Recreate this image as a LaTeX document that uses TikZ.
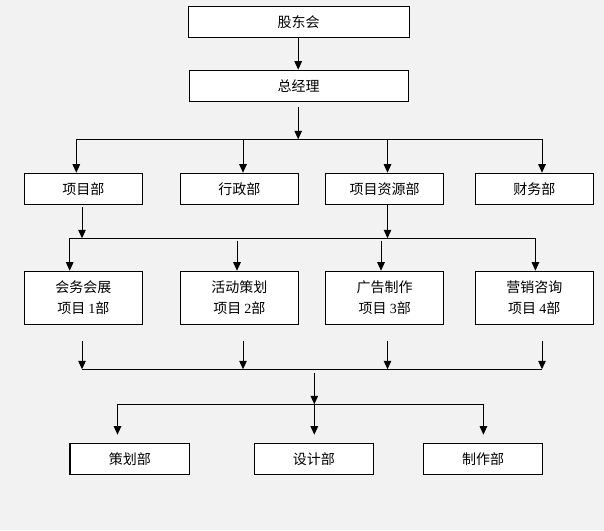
\documentclass[tikz,border=0pt]{standalone}
\usepackage{fontspec}
\setmainfont{Noto Sans CJK SC}
\newfontfamily\tnr{Liberation Serif}
\usetikzlibrary{arrows.meta}
\tikzset{
  box/.style={draw=black, fill=white, line width=1.2pt, minimum height=31pt, inner sep=0pt, font=\fontsize{14}{20.5}\selectfont},
  tallbox/.style={box, minimum height=53pt, align=center, minimum width=118pt},
  arr/.style={draw=black, line width=1pt, -{Triangle[length=8.5pt,width=7.5pt]}},
  bus/.style={draw=black, line width=1.2pt},
}
\begin{document}
\begin{tikzpicture}[x=1pt,y=-1pt]
\fill[fill={rgb,255:red,242;green,242;blue,242}] (0,0) rectangle (604,530);
\useasboundingbox (0,0) rectangle (604,530);
% top
\node[box, minimum width=221pt] (gdh) at (298.7,21.8) {股东会};
\node[box, minimum width=219pt] (zjl) at (298.7,85.8) {总经理};
% row 3
\node[box, minimum width=118pt] (xmb) at (83.4,188.8) {项目部};
\node[box, minimum width=118pt] (xzb) at (239.4,188.8) {行政部};
\node[box, minimum width=118pt] (zyb) at (384.7,188.8) {项目资源部};
\node[box, minimum width=118pt] (cwb) at (534.3,188.8) {财务部};
% row 4
\node[tallbox] (p1) at (83.4,297.8) {会务会展\\项目 {\tnr 1}部};
\node[tallbox] (p2) at (239.4,297.8) {活动策划\\项目 {\tnr 2}部};
\node[tallbox] (p3) at (384.7,297.8) {广告制作\\项目 {\tnr 3}部};
\node[tallbox] (p4) at (534.3,297.8) {营销咨询\\项目 {\tnr 4}部};
% row 5
\node[box, minimum width=119.5pt] (chb) at (129.8,458.8) {策划部};
\node[box, minimum width=119.5pt] (sjb) at (313.9,458.8) {设计部};
\node[box, minimum width=119.5pt] (zzb) at (483,458.8) {制作部};

% connectors level 1
\draw[arr] (298.2,0 |- gdh.south) -- (298.2,0 |- zjl.north);
\coordinate (z0) at (298.2,107);
\coordinate (z1) at (298.2,139.3);
\draw[arr] (z0) -- (z1);
\coordinate (bA) at (76.3,139.3);
\coordinate (bB) at (243,139.3);
\coordinate (bC) at (387.5,139.3);
\coordinate (bD) at (542,139.3);
\draw[bus] (bA) -- (bD);
\draw[arr] (bA) -- (bA |- xmb.north);
\draw[arr] (bB) -- (bB |- xzb.north);
\draw[arr] (bC) -- (bC |- zyb.north);
\draw[arr] (bD) -- (bD |- cwb.north);

% level 2
\coordinate (m1) at (82,238.3);
\coordinate (m2) at (387.5,238.3);
\draw[arr] ([yshift=-2.4pt]m1 |- xmb.south) -- (m1);
\draw[arr] (m2 |- zyb.south) -- (m2);
\coordinate (cA) at (69.7,238.3);
\coordinate (cB) at (237,240.7);
\coordinate (cC) at (381,240.7);
\coordinate (cD) at (535.4,238.3);
\draw[bus] (cA) -- (cD);
\draw[arr] (cA) -- (cA |- p1.north);
\draw[arr] (cB) -- (cB |- p2.north);
\draw[arr] (cC) -- (cC |- p3.north);
\draw[arr] (cD) -- (cD |- p4.north);

% level 3
\coordinate (s1) at (82,341);
\coordinate (s2) at (243,341);
\coordinate (s3) at (387.5,341);
\coordinate (s4) at (542,341);
\coordinate (e1) at (82,369.3);
\coordinate (e2) at (243,369.3);
\coordinate (e3) at (387.5,369.3);
\coordinate (e4) at (542,369.3);
\draw[arr] (s1) -- (e1);
\draw[arr] (s2) -- (e2);
\draw[arr] (s3) -- (e3);
\draw[arr] (s4) -- (e4);
\draw[bus] (e1) -- (e4);
\coordinate (t0) at (314.3,372.7);
\coordinate (t1) at (314.3,404.3);
\draw[arr] (t0) -- (t1);
\coordinate (dA) at (117.5,404.3);
\coordinate (dC) at (483.4,404.3);
\draw[bus] (dA) -- (dC);
\draw[arr] (dA) -- ([yshift=8pt]dA |- chb.north);
\draw[arr] (t1) -- ([yshift=8pt]t1 |- sjb.north);
\draw[arr] (dC) -- ([yshift=8pt]dC |- zzb.north);
\end{tikzpicture}
\end{document}
